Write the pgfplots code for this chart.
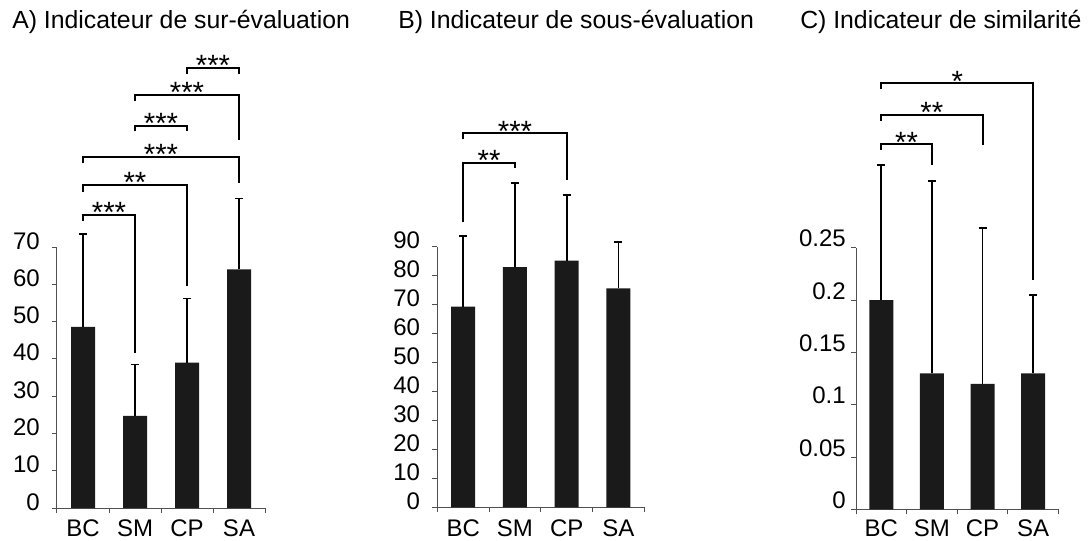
\documentclass[border=0pt]{standalone}
\usepackage{fontspec}
\setmainfont{Liberation Sans}
\usepackage{pgfplots}
\pgfplotsset{compat=1.18}

\definecolor{barfill}{HTML}{1A1A1A}
\definecolor{axgray}{HTML}{505050}

\newcommand{\chartfont}{\fontsize{18pt}{21pt}\selectfont}
\newcommand{\titlefont}{\fontsize{18.6pt}{22pt}\selectfont}
\newcommand{\starfont}{\fontsize{22pt}{26pt}\selectfont}

\tikzset{
  stars/.style={anchor=base, font=\starfont, yshift=-5.9pt, inner sep=0pt},
  ptitle/.style={anchor=base west, inner sep=0pt, font=\titlefont},
}

\pgfplotsset{
  panel/.style={
    scale only axis,
    anchor=south west,
    clip=false,
    enlargelimits=false,
    ybar,
    bar width=18pt,
    axis x line*=bottom,
    axis y line*=left,
    axis line style={-, draw=axgray, line width=0.75pt},
    xmin=-0.5, xmax=3.5,
    xtick={0,1,2,3},
    xticklabels={BC,SM,CP,SA},
    major x tick style={draw=none},
    minor xtick={-0.5,0.5,1.5,2.5,3.5},
    tick align=outside,
    major tick length=3.75pt,
    minor tick length=3.75pt,
    tick style={draw=axgray, line width=0.75pt},
    ticklabel style={font=\chartfont},
    xticklabel style={anchor=base, inner sep=0pt, yshift=-17.8pt},
    /pgf/number format/assume math mode=true,
  },
  bars/.style={
    fill=barfill, draw=none,
    error bars/.cd,
      y dir=plus, y explicit,
      error bar style={line width=1.4pt, black},
      error mark options={rotate=90, mark size=3pt, line width=1.4pt, black},
  },
  brk/.style={sharp plot, mark=none, black, line width=1.5pt, line join=miter},
}

\begin{document}
\begin{tikzpicture}
\useasboundingbox (0,0) rectangle (818.25pt,405pt);

\node[ptitle] at (9pt,383.25pt) {A) Indicateur de sur-évaluation};
\node[ptitle] at (298.5pt,383.25pt) {B) Indicateur de sous-évaluation};
\node[ptitle] at (600pt,383.25pt) {C) Indicateur de similarité};

% A) sur-evaluation
\begin{axis}[panel, at={(42.75pt,24pt)}, width=156pt, height=195.75pt,
  ymin=0, ymax=70, ytick={0,10,20,30,40,50,60,70},
  yticklabel style={anchor=base east, inner sep=0pt, xshift=-9pt, yshift=-1.5pt}]
  \addplot[bars] coordinates {
    (0,48.6) +- (0,25.0)
    (1,24.7) +- (0,13.8)
    (2,39.0) +- (0,17.2)
    (3,64.0) +- (0,19.0)
  };
  \addplot[brk] coordinates {(0,77.0) (0,78.7) (1,78.7) (1,41.6)};
  \addplot[brk] coordinates {(0,84.8) (0,86.6) (2,86.6) (2,59.6)};
  \addplot[brk] coordinates {(0,92.4) (0,94.2) (3,94.2) (3,87.2)};
  \addplot[brk] coordinates {(1,101.1) (1,102.5) (2,102.5) (2,101.1)};
  \addplot[brk] coordinates {(1,109.1) (1,110.9) (3,110.9) (3,98.7)};
  \addplot[brk] coordinates {(2,116.5) (2,118.0) (3,118.0) (3,116.5)};
  \node[stars] at (axis cs:0.5,78.7) {***};
  \node[stars] at (axis cs:1.0,86.6) {**};
  \node[stars] at (axis cs:1.5,94.2) {***};
  \node[stars] at (axis cs:1.5,102.5) {***};
  \node[stars] at (axis cs:2.0,110.9) {***};
  \node[stars] at (axis cs:2.5,118.0) {***};
\end{axis}

% B) sous-evaluation
\begin{axis}[panel, at={(328pt,24.5pt)}, width=155.25pt, height=195.5pt,
  ymin=0, ymax=90, ytick={0,10,20,30,40,50,60,70,80,90},
  yticklabel style={anchor=base east, inner sep=0pt, xshift=-9pt, yshift=-1.5pt}]
  \addplot[bars] coordinates {
    (0,69.3) +- (0,24.5)
    (1,82.9) +- (0,29.0)
    (2,85.2) +- (0,22.6)
    (3,75.6) +- (0,16.1)
  };
  \addplot[brk] coordinates {(0,98.6) (0,119.0) (1,119.0) (1,117.0)};
  \addplot[brk] coordinates {(0,127.1) (0,129.1) (2,129.1) (2,113.0)};
  \node[stars] at (axis cs:0.5,119.0) {**};
  \node[stars] at (axis cs:1.0,129.1) {***};
\end{axis}

% C) similarite
\begin{axis}[panel, at={(642pt,23pt)}, width=151.8pt, height=196.2pt,
  ymin=0, ymax=0.25, ytick={0,0.05,0.1,0.15,0.2,0.25},
  yticklabels={0,0.05,0.1,0.15,0.2,0.25},
  xticklabel style={yshift=1.3pt},
  yticklabel style={anchor=base east, inner sep=0pt, xshift=-3.75pt, yshift=0.75pt}]
  \addplot[bars] coordinates {
    (0,0.200) +- (0,0.129)
    (1,0.130) +- (0,0.184)
    (2,0.120) +- (0,0.149)
    (3,0.130) +- (0,0.075)
  };
  \addplot[brk] coordinates {(0,0.3434) (0,0.349) (1,0.349) (1,0.329)};
  \addplot[brk] coordinates {(0,0.3714) (0,0.3768) (2,0.3768) (2,0.348)};
  \addplot[brk] coordinates {(0,0.4014) (0,0.4071) (3,0.4071) (3,0.219)};
  \node[stars] at (axis cs:0.5,0.349) {**};
  \node[stars] at (axis cs:1.0,0.3768) {**};
  \node[stars] at (axis cs:1.5,0.4071) {*};
\end{axis}
\end{tikzpicture}
\end{document}
